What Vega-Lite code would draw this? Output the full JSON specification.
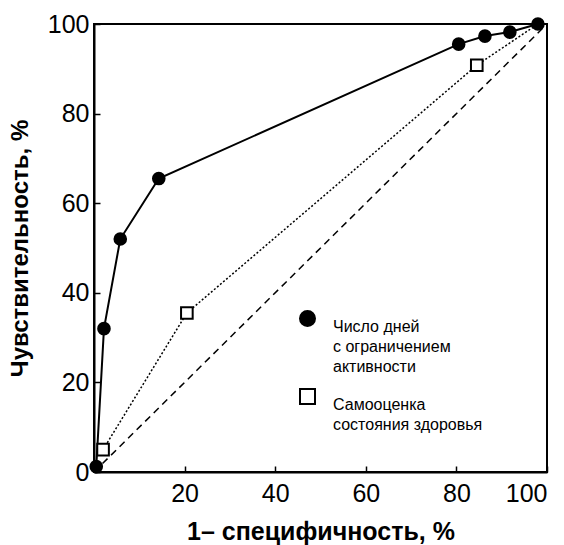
{
  "$schema": "https://vega.github.io/schema/vega-lite/v6.json",
  "autosize": "none",
  "width": 453,
  "height": 448,
  "padding": {"left": 94, "top": 24, "right": 17, "bottom": 73},
  "background": "white",
  "config": {
    "font": "Liberation Sans",
    "view": {"stroke": "black", "strokeWidth": 2},
    "axis": {
      "domainColor": "black", "domainWidth": 2, "tickColor": "black", "tickWidth": 1.5,
      "tickSize": -6, "grid": false, "labelFont": "Liberation Sans", "labelFontSize": 25,
      "labelColor": "black", "titleFont": "Liberation Sans", "titleFontSize": 24,
      "titleFontWeight": "bold", "titleColor": "black"
    }
  },
  "datasets": {
    "roc": [
      {"x": 2, "y": 5, "series": "Самооценка состояния здоровья"},
      {"x": 20.5, "y": 35.5, "series": "Самооценка состояния здоровья"},
      {"x": 84.5, "y": 90.8, "series": "Самооценка состояния здоровья"},
      {"x": 98, "y": 100, "series": "Самооценка состояния здоровья"},
      {"x": 0.5, "y": 1.2, "series": "Число дней с ограничением активности"},
      {"x": 2.2, "y": 32, "series": "Число дней с ограничением активности"},
      {"x": 5.8, "y": 52, "series": "Число дней с ограничением активности"},
      {"x": 14.3, "y": 65.5, "series": "Число дней с ограничением активности"},
      {"x": 80.5, "y": 95.5, "series": "Число дней с ограничением активности"},
      {"x": 86.3, "y": 97.3, "series": "Число дней с ограничением активности"},
      {"x": 91.8, "y": 98.2, "series": "Число дней с ограничением активности"},
      {"x": 98, "y": 100, "series": "Число дней с ограничением активности"}
    ],
    "diag": [{"x": 0, "y": 0}, {"x": 100, "y": 100}]
  },
  "layer": [
    {
      "data": {"name": "diag"},
      "mark": {"type": "line", "color": "black", "strokeWidth": 1.5, "strokeDash": [7, 5]},
      "encoding": {
        "x": {"field": "x", "type": "quantitative", "scale": {"domain": [0, 100]},
          "axis": {"values": [20, 40, 60, 80, 100], "labelPadding": 15, "title": "1– специфичность, %", "titlePadding": 13, "titleFontSize": 25}},
        "y": {"field": "y", "type": "quantitative", "scale": {"domain": [0, 100]},
          "axis": {"values": [0, 20, 40, 60, 80, 100], "labelPadding": 11, "title": "Чувствительность, %", "titlePadding": 15}}
      }
    },
    {
      "data": {"name": "roc"},
      "transform": [{"filter": "datum.series == 'Число дней с ограничением активности'"}],
      "mark": {"type": "line", "color": "black", "strokeWidth": 2},
      "encoding": {
        "x": {"field": "x", "type": "quantitative"},
        "y": {"field": "y", "type": "quantitative"}
      }
    },
    {
      "data": {"name": "roc"},
      "transform": [{"filter": "datum.series == 'Самооценка состояния здоровья'"}],
      "mark": {"type": "line", "color": "black", "strokeWidth": 1.5, "strokeDash": [2, 2]},
      "encoding": {
        "x": {"field": "x", "type": "quantitative"},
        "y": {"field": "y", "type": "quantitative"}
      }
    },
    {
      "data": {"name": "roc"},
      "transform": [{"filter": "!(datum.series == 'Самооценка состояния здоровья' && datum.y >= 100)"}],
      "mark": {"type": "point", "filled": true, "stroke": "black", "strokeWidth": 2, "size": 135, "opacity": 1},
      "encoding": {
        "x": {"field": "x", "type": "quantitative"},
        "y": {"field": "y", "type": "quantitative"},
        "shape": {"field": "series", "type": "nominal",
          "scale": {"domain": ["Число дней с ограничением активности", "Самооценка состояния здоровья"], "range": ["circle", "square"]},
          "legend": {
            "title": null, "orient": "none", "legendX": 205, "legendY": 286,
            "symbolSize": 225, "labelOffset": 17, "labelFontSize": 16, "labelColor": "black",
            "labelLimit": 300, "rowPadding": 10, "labelBaseline": "top",
            "labelExpr": "datum.value == 'Самооценка состояния здоровья' ? 'Самооценка|состояния здоровья' : 'Число дней|с ограничением|активности'",
            "encoding": {
              "symbols": {
                "stroke": {"value": "black"}, "strokeWidth": {"value": 2}, "opacity": {"value": 1}
              },
              "labels": {"lineBreak": {"value": "|"}, "lineHeight": {"value": 20}}
            }
          }},
        "fill": {"field": "series", "type": "nominal",
          "scale": {"domain": ["Число дней с ограничением активности", "Самооценка состояния здоровья"], "range": ["black", "white"]}}
      }
    }
  ]
}
